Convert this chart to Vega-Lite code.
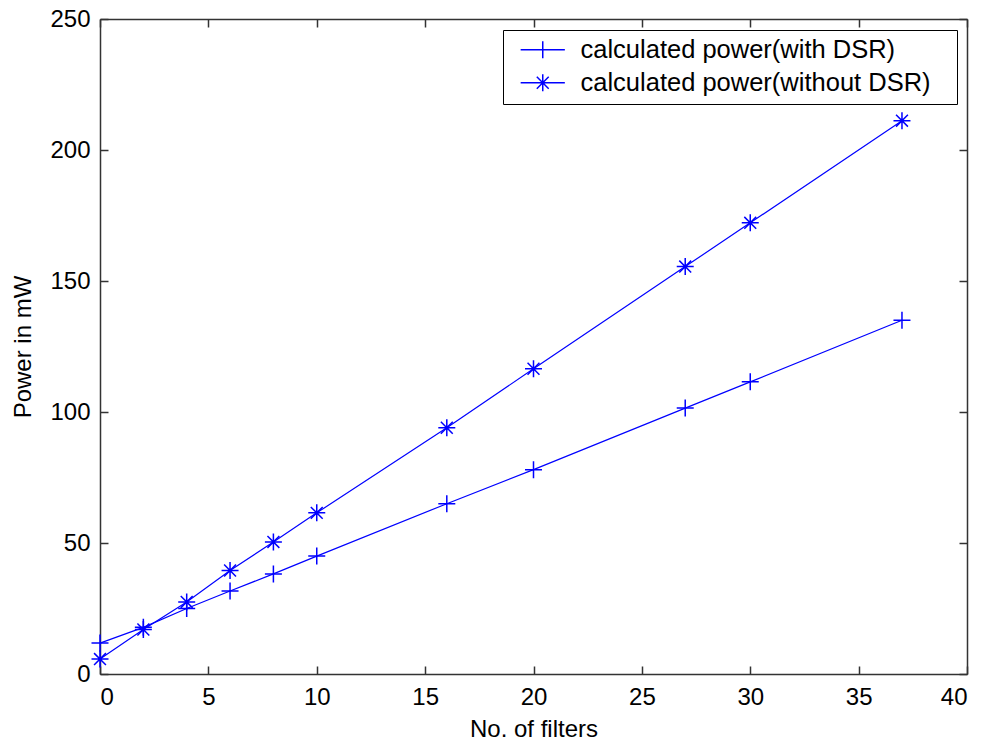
{
  "$schema": "https://vega.github.io/schema/vega-lite/v6.json",
  "width": 867,
  "height": 655,
  "autosize": {"type": "none"},
  "padding": {"left": 100, "top": 19, "right": 17, "bottom": 69},
  "background": "white",
  "config": {
    "view": {"stroke": null},
    "font": "Liberation Sans",
    "axis": {
      "grid": false,
      "domainColor": "#333333",
      "domainWidth": 1.5,
      "tickColor": "#333333",
      "tickWidth": 1.5,
      "tickSize": -8,
      "labelFont": "Liberation Sans",
      "labelFontSize": 24,
      "labelColor": "#000000",
      "titleFont": "Liberation Sans",
      "titleFontSize": 24,
      "titleFontWeight": "normal",
      "titleColor": "#000000"
    }
  },
  "data": {
    "values": [
      {"series": "calculated power(with DSR)", "filters": 0, "power": 11.8},
      {"series": "calculated power(with DSR)", "filters": 2, "power": 17.8},
      {"series": "calculated power(with DSR)", "filters": 4, "power": 25},
      {"series": "calculated power(with DSR)", "filters": 6, "power": 31.7},
      {"series": "calculated power(with DSR)", "filters": 8, "power": 38.2},
      {"series": "calculated power(with DSR)", "filters": 10, "power": 45},
      {"series": "calculated power(with DSR)", "filters": 16, "power": 65},
      {"series": "calculated power(with DSR)", "filters": 20, "power": 78},
      {"series": "calculated power(with DSR)", "filters": 27, "power": 101.5},
      {"series": "calculated power(with DSR)", "filters": 30, "power": 111.5},
      {"series": "calculated power(with DSR)", "filters": 37, "power": 135},
      {"series": "calculated power(without DSR)", "filters": 0, "power": 5.7},
      {"series": "calculated power(without DSR)", "filters": 2, "power": 17},
      {"series": "calculated power(without DSR)", "filters": 4, "power": 27.5},
      {"series": "calculated power(without DSR)", "filters": 6, "power": 39.5},
      {"series": "calculated power(without DSR)", "filters": 8, "power": 50.4},
      {"series": "calculated power(without DSR)", "filters": 10, "power": 61.5},
      {"series": "calculated power(without DSR)", "filters": 16, "power": 94},
      {"series": "calculated power(without DSR)", "filters": 20, "power": 116.5},
      {"series": "calculated power(without DSR)", "filters": 27, "power": 155.5},
      {"series": "calculated power(without DSR)", "filters": 30, "power": 172.2},
      {"series": "calculated power(without DSR)", "filters": 37, "power": 211.2}
    ]
  },
  "resolve": {"axis": {"x": "independent", "y": "independent"}},
  "layer": [
    {
      "mark": {"type": "line", "color": "#0000ff", "strokeWidth": 1.2},
      "encoding": {
        "x": {
          "field": "filters", "type": "quantitative",
          "scale": {"domain": [0, 40], "nice": false, "zero": false},
          "axis": {"orient": "bottom", "title": "No. of filters", "values": [0,5,10,15,20,25,30,35,40], "labelPadding": 19, "titlePadding": 8}
        },
        "y": {
          "field": "power", "type": "quantitative",
          "scale": {"domain": [0, 250], "nice": false, "zero": false},
          "axis": {"orient": "left", "title": "Power in mW", "values": [0,50,100,150,200,250], "labelPadding": 18, "titlePadding": 14}
        },
        "detail": {"field": "series"}
      }
    },
    {
      "transform": [{"filter": "datum.series == 'calculated power(with DSR)'"}],
      "mark": {"type": "point", "filled": false, "stroke": "#0000ff", "strokeWidth": 1.5, "size": 289, "opacity": 1, "shape": "M-1,0H1M0,-1V1"},
      "encoding": {
        "x": {"field": "filters", "type": "quantitative", "axis": null},
        "y": {"field": "power", "type": "quantitative", "axis": null}
      }
    },
    {
      "transform": [{"filter": "datum.series == 'calculated power(without DSR)'"}],
      "mark": {"type": "point", "filled": false, "stroke": "#0000ff", "strokeWidth": 1.5, "size": 289, "opacity": 1, "shape": "M-1,0H1M0,-1V1M-0.7,-0.7L0.7,0.7M-0.7,0.7L0.7,-0.7"},
      "encoding": {
        "x": {"field": "filters", "type": "quantitative", "axis": null},
        "y": {"field": "power", "type": "quantitative", "axis": null}
      }
    },
    {
      "mark": {"type": "point", "filled": false, "opacity": 0, "size": 289},
      "encoding": {
        "x": {"field": "filters", "type": "quantitative", "axis": {"orient": "top", "labels": false, "title": null, "values": [0,5,10,15,20,25,30,35,40]}},
        "y": {"field": "power", "type": "quantitative", "axis": {"orient": "right", "labels": false, "title": null, "values": [0,50,100,150,200,250]}},
        "shape": {
          "field": "series", "type": "nominal",
          "scale": {
            "domain": ["calculated power(with DSR)", "calculated power(without DSR)"],
            "range": ["M-2.6,0H2.6M0,-1V1", "M-2.6,0H2.6M0,-1V1M-0.7,-0.7L0.7,0.7M-0.7,0.7L0.7,-0.7"]
          },
          "legend": {
            "title": null,
            "orient": "none",
            "legendX": 403,
            "legendY": 11,
            "fillColor": "white",
            "strokeColor": "#000000",
            "padding": 7,
            "symbolSize": 289,
            "symbolOpacity": 1,
            "symbolStrokeColor": "#0000ff",
            "symbolStrokeWidth": 1.5,
            "symbolFillColor": "transparent",
            "symbolOffset": 20,
            "labelOffset": 25,
            "labelFont": "Liberation Sans",
            "labelFontSize": 25.5,
            "labelColor": "#000000",
            "labelLimit": 500,
            "rowPadding": 6,
            "labelExpr": "datum.label + '\u2800'"
          }
        }
      }
    }
  ]
}
